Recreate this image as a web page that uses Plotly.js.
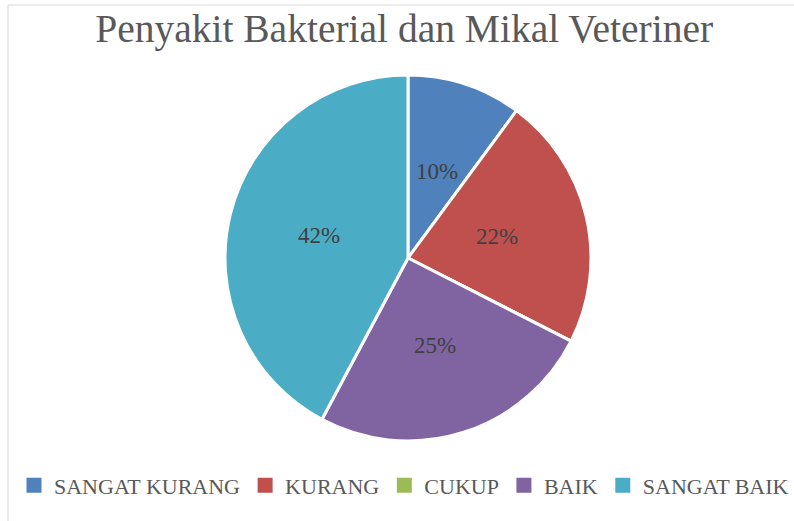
<!DOCTYPE html>
<html><head><meta charset="utf-8">
<script src="https://cdn.plot.ly/plotly-3.0.1.min.js"></script>
<style>html,body{margin:0;padding:0;background:#fff;}#chart{width:794px;height:521px;}</style>
</head><body><div id="chart"></div>
<script>
const labels = ["SANGAT KURANG", "KURANG", "CUKUP", "BAIK", "SANGAT BAIK"];
const values = [10.1, 22.4, 0, 25.3, 42.2];
const colors = ["#4F81BD", "#C0504D", "#9BBB59", "#8064A2", "#4BACC6"];
const titleText = "Penyakit Bakterial dan Mikal Veteriner";

const W = 794, H = 521;
const fontFam = "Liberation Serif, DejaVu Serif, serif";
const dom = {x: [0.2834, 0.7443], y: [0.1536, 0.8560]};

// pie (legend drawn by marker-only legend traces)
const data = [{
  type: "pie",
  labels: labels,
  values: values,
  sort: false,
  direction: "clockwise",
  rotation: 0,
  marker: {colors: colors, line: {color: "#ffffff", width: 3}},
  textinfo: "none",
  hoverinfo: "label+percent",
  showlegend: false,
  domain: dom
}];
labels.forEach((lab, i) => {
  data.push({
    type: "scatter", mode: "markers", x: [null], y: [null],
    name: lab, showlegend: true,
    marker: {symbol: "square", size: 15, color: colors[i]},
    hoverinfo: "skip"
  });
});

// percentage labels at half radius on each slice's mid-angle (Excel style)
const total = values.reduce((a, b) => a + b, 0);
const cx = (dom.x[0] + dom.x[1]) / 2, cy = (dom.y[0] + dom.y[1]) / 2;
const rPx = Math.min((dom.x[1] - dom.x[0]) * W, (dom.y[1] - dom.y[0]) * H) / 2;
const annotations = [];
let cum = 0;
values.forEach((v) => {
  const mid = (cum + v / 2) / total * 2 * Math.PI;
  cum += v;
  if (v <= 0) return;
  const rr = 0.5 * rPx;
  annotations.push({
    xref: "paper", yref: "paper",
    x: cx + rr * Math.sin(mid) / W, y: cy + rr * Math.cos(mid) / H,
    text: Math.round(v / total * 100) + "%", showarrow: false,
    xanchor: "center", yanchor: "middle",
    font: {family: fontFam, size: 23, color: "#404040"}
  });
});

const layout = {
  width: W, height: H,
  margin: {l: 0, r: 0, t: 0, b: 0},
  paper_bgcolor: "#ffffff",
  plot_bgcolor: "rgba(0,0,0,0)",
  xaxis: {visible: false, fixedrange: true},
  yaxis: {visible: false, fixedrange: true},
  title: {text: titleText, font: {family: fontFam, size: 39.5, color: "#595959"},
          x: 0.509, xanchor: "center", y: 0.945, yanchor: "middle", xref: "paper", yref: "container"},
  showlegend: true,
  legend: {orientation: "h", x: 0.527, xanchor: "center", y: 0.068, yanchor: "middle",
           font: {family: fontFam, size: 22, color: "#595959"}, traceorder: "normal",
           itemwidth: 30},
  annotations: annotations,
  shapes: [
    {type: "line", xref: "paper", yref: "paper", x0: 8/W, x1: 1.01, y0: 1 - 5/H, y1: 1 - 5/H, line: {color: "#d9d9d9", width: 1}},
    {type: "line", xref: "paper", yref: "paper", x0: 8/W, x1: 8/W, y0: 1 - 5/H, y1: -0.01, line: {color: "#d9d9d9", width: 1}}
  ]
};

Plotly.newPlot("chart", data, layout, {displayModeBar: false, staticPlot: true});
</script>
</body></html>
